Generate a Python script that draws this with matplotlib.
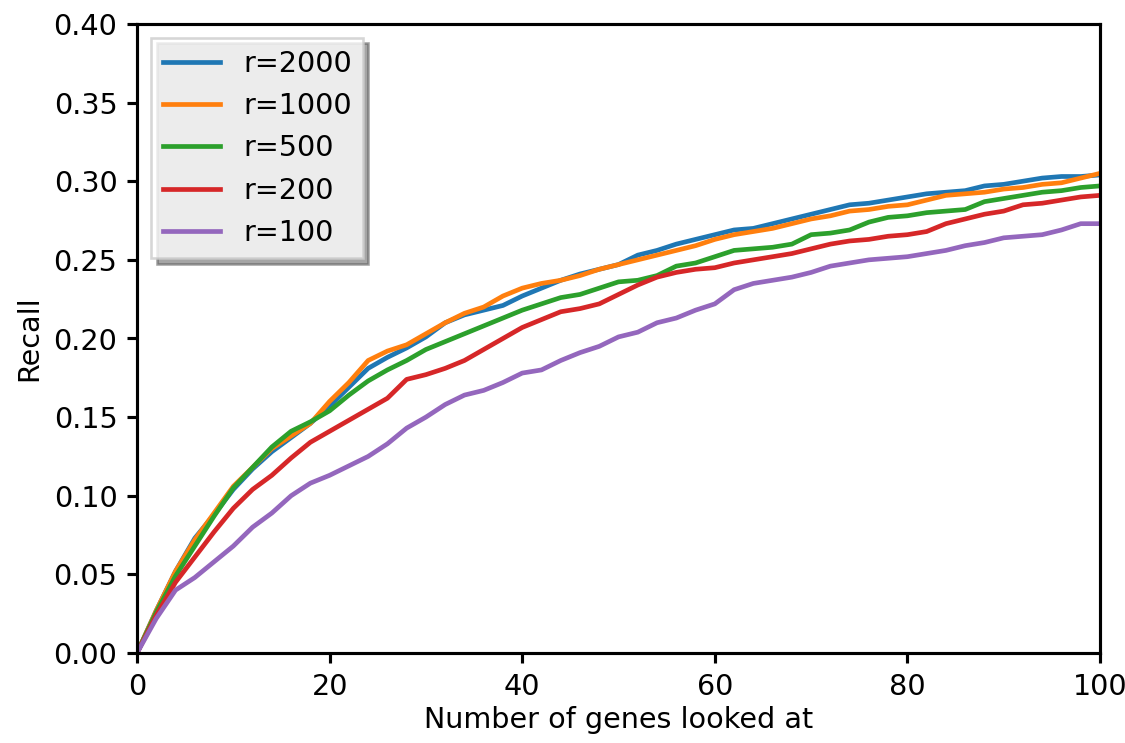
import matplotlib
matplotlib.use("Agg")
import matplotlib.pyplot as plt

# number of genes looked at (shared x for every curve)
genes = list(range(0, 101, 2))

recall_2000 = [0.0, 0.027, 0.052, 0.073, 0.088, 0.104, 0.117, 0.128, 0.137, 0.146,
               0.157, 0.169, 0.181, 0.188, 0.194, 0.201, 0.210, 0.215, 0.218, 0.221,
               0.227, 0.232, 0.237, 0.241, 0.244, 0.247, 0.253, 0.256, 0.260, 0.263,
               0.266, 0.269, 0.270, 0.273, 0.276, 0.279, 0.282, 0.285, 0.286, 0.288,
               0.290, 0.292, 0.293, 0.294, 0.297, 0.298, 0.300, 0.302, 0.303, 0.303,
               0.304]
recall_1000 = [0.0, 0.027, 0.052, 0.072, 0.089, 0.106, 0.118, 0.130, 0.138, 0.146,
               0.160, 0.172, 0.186, 0.192, 0.196, 0.203, 0.210, 0.216, 0.220, 0.227,
               0.232, 0.235, 0.237, 0.240, 0.244, 0.247, 0.250, 0.253, 0.256, 0.259,
               0.263, 0.266, 0.268, 0.270, 0.273, 0.276, 0.278, 0.281, 0.282, 0.284,
               0.285, 0.288, 0.291, 0.292, 0.293, 0.295, 0.296, 0.298, 0.299, 0.302,
               0.305]
recall_500 = [0.0, 0.026, 0.049, 0.068, 0.087, 0.105, 0.118, 0.131, 0.141, 0.147,
              0.154, 0.164, 0.173, 0.180, 0.186, 0.193, 0.198, 0.203, 0.208, 0.213,
              0.218, 0.222, 0.226, 0.228, 0.232, 0.236, 0.237, 0.240, 0.246, 0.248,
              0.252, 0.256, 0.257, 0.258, 0.260, 0.266, 0.267, 0.269, 0.274, 0.277,
              0.278, 0.280, 0.281, 0.282, 0.287, 0.289, 0.291, 0.293, 0.294, 0.296,
              0.297]
recall_200 = [0.0, 0.024, 0.045, 0.061, 0.077, 0.092, 0.104, 0.113, 0.124, 0.134,
              0.141, 0.148, 0.155, 0.162, 0.174, 0.177, 0.181, 0.186, 0.193, 0.200,
              0.207, 0.212, 0.217, 0.219, 0.222, 0.228, 0.234, 0.239, 0.242, 0.244,
              0.245, 0.248, 0.250, 0.252, 0.254, 0.257, 0.260, 0.262, 0.263, 0.265,
              0.266, 0.268, 0.273, 0.276, 0.279, 0.281, 0.285, 0.286, 0.288, 0.290,
              0.291]
recall_100 = [0.0, 0.022, 0.040, 0.048, 0.058, 0.068, 0.080, 0.089, 0.100, 0.108,
              0.113, 0.119, 0.125, 0.133, 0.143, 0.150, 0.158, 0.164, 0.167, 0.172,
              0.178, 0.180, 0.186, 0.191, 0.195, 0.201, 0.204, 0.210, 0.213, 0.218,
              0.222, 0.231, 0.235, 0.237, 0.239, 0.242, 0.246, 0.248, 0.250, 0.251,
              0.252, 0.254, 0.256, 0.259, 0.261, 0.264, 0.265, 0.266, 0.269, 0.273,
              0.273]

curves = [("r=2000", recall_2000), ("r=1000", recall_1000), ("r=500", recall_500),
          ("r=200", recall_200), ("r=100", recall_100)]

plt.rcParams["font.size"] = 11
plt.rcParams["axes.linewidth"] = 1.2
plt.rcParams["xtick.major.width"] = 1.2
plt.rcParams["ytick.major.width"] = 1.2
plt.rcParams["xtick.major.size"] = 4
plt.rcParams["ytick.major.size"] = 4

fig = plt.figure(figsize=(6, 3.963), dpi=187.5)
ax = fig.add_axes([0.1218, 0.1211, 0.856, 0.8466])

for label, vals in curves:
    ax.plot(genes, vals, label=label, linewidth=1.8)

ax.set_xlim(0, 100)
ax.set_ylim(0, 0.4)
ax.set_xlabel("Number of genes looked at", labelpad=2)
ax.set_ylabel("Recall")
ax.legend(loc="upper left", shadow=True, fancybox=False, framealpha=0.8)

fig.savefig("out.png", dpi=187.5)
